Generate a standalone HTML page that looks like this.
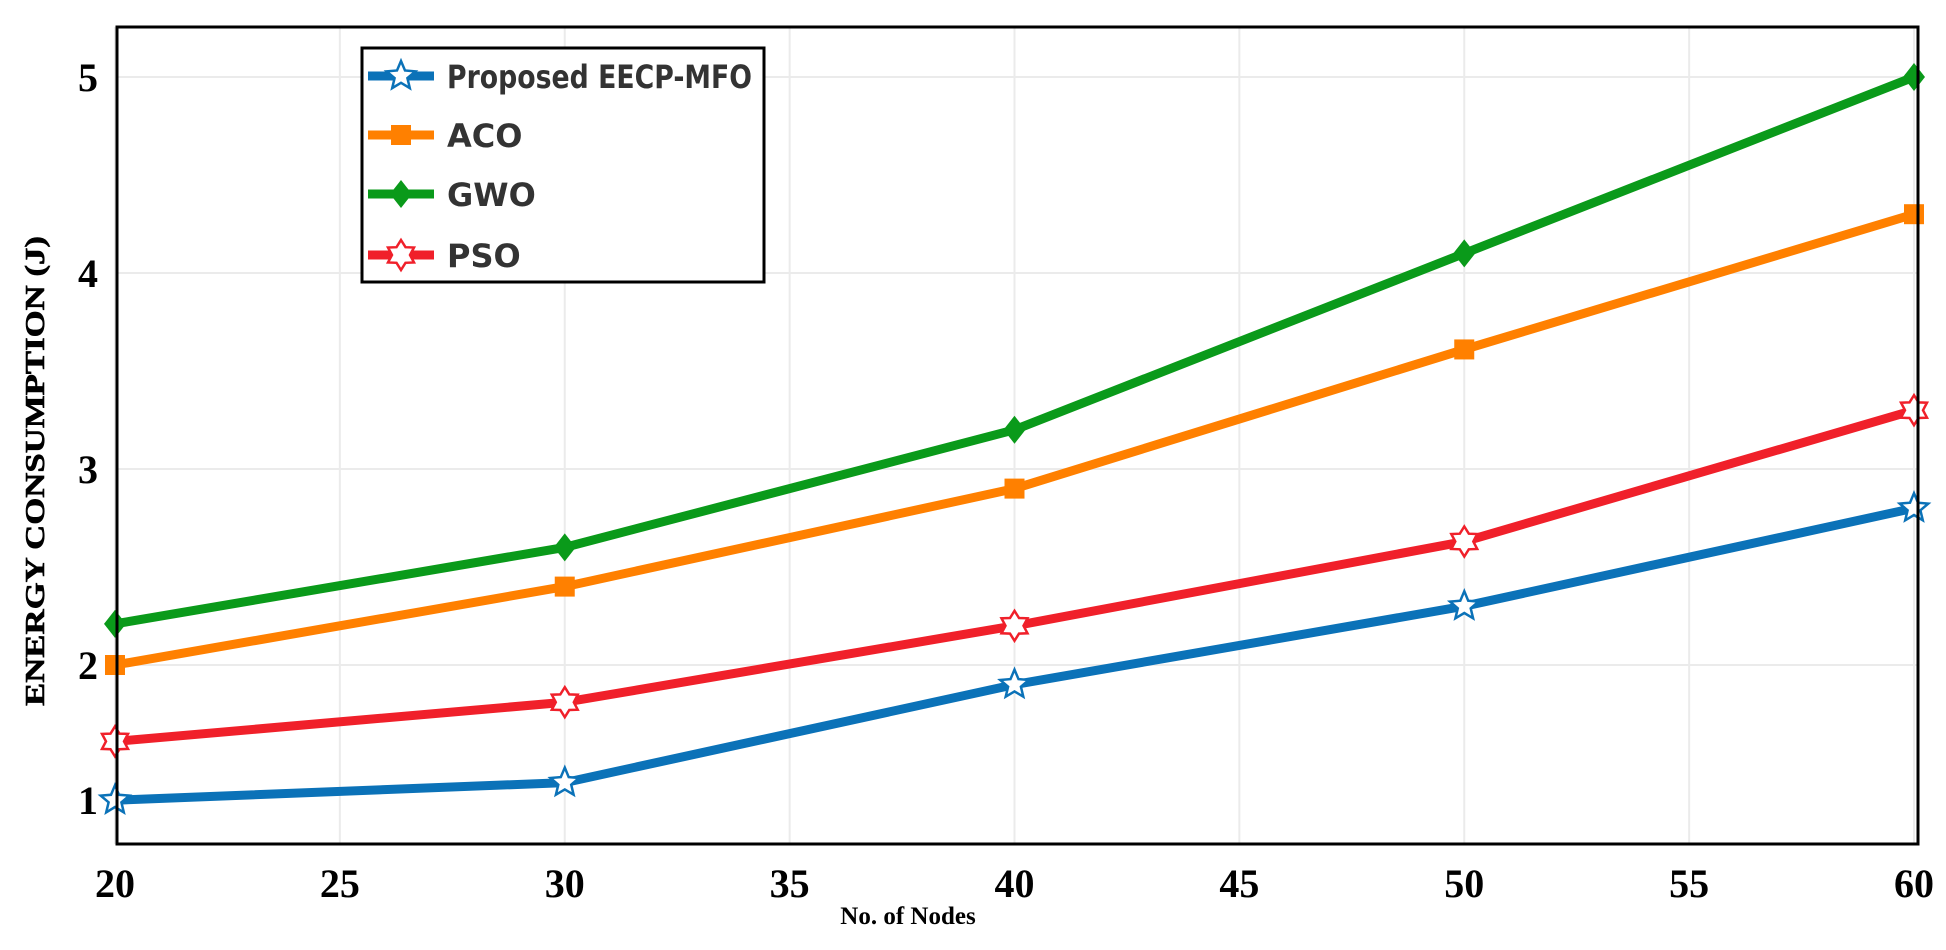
<!DOCTYPE html>
<html><head><meta charset="utf-8"><style>
html,body{margin:0;padding:0;background:#fff;}
svg{display:block;}
</style></head><body>
<svg id="chart" width="1946" height="950" xmlns="http://www.w3.org/2000/svg">
<rect x="0" y="0" width="1946" height="950" fill="#fff"/>
<g id="grid"></g>
<g id="series"></g>
<rect x="117" y="27" width="1801" height="817" fill="none" stroke="#000" stroke-width="3"/>
<g id="ticks"></g>
<text x="908" y="924" font-family="Liberation Serif, serif" font-weight="bold" font-size="25" text-anchor="middle">No. of Nodes</text>
<text transform="translate(44,471) rotate(-90)" font-family="Liberation Serif, serif" font-weight="bold" font-size="27" text-anchor="middle" textLength="470" lengthAdjust="spacingAndGlyphs" stroke="#000" stroke-width="0.6">ENERGY CONSUMPTION (J)</text>
<g id="legend">
<rect x="362" y="48" width="402" height="234" fill="#fff" stroke="#000" stroke-width="3"/>
</g>
</svg>
<script>
const categories = [20, 30, 40, 50, 60];
const seriesNames = ['Proposed EECP-MFO', 'ACO', 'GWO', 'PSO'];
const mfoValues = [1.31, 1.40, 1.90, 2.30, 2.80];
const acoValues = [2.00, 2.40, 2.90, 3.61, 4.30];
const gwoValues = [2.21, 2.60, 3.20, 4.10, 5.00];
const psoValues = [1.61, 1.81, 2.20, 2.63, 3.30];
const xTicks = [20, 25, 30, 35, 40, 45, 50, 55, 60];
const yGridVals = [2, 3, 4, 5];
const yTickVals = [1.31, 2, 3, 4, 5];
const yTickLabels = ['1', '2', '3', '4', '5'];

const NS = 'http://www.w3.org/2000/svg';
function X(v){ return 115 + (v - 20) * 44.975; }
function Y(v){ return 77 + (5 - v) * 196; }
function mk(tag, attrs, parent){ const e = document.createElementNS(NS, tag); for (const k in attrs) e.setAttribute(k, attrs[k]); parent.appendChild(e); return e; }

const grid = document.getElementById('grid');
xTicks.forEach(t => {
  const l = mk('line', {x1: X(t), x2: X(t), y1: 27, y2: 844, stroke: '#ebebeb', 'stroke-width': 2}, grid);
  
  
});
yGridVals.forEach(t => {
  const l = mk('line', {x1: 117, x2: 1918, y1: Y(t), y2: Y(t), stroke: '#ebebeb', 'stroke-width': 2}, grid);
  
  
});

const ticks = document.getElementById('ticks');
xTicks.forEach(t => {
  const tx = mk('text', {x: X(t), y: 897, 'font-family': 'Liberation Serif, serif', 'font-weight': 'bold', 'font-size': 40, 'text-anchor': 'middle'}, ticks);
  tx.textContent = t;
  
  
});
yTickVals.forEach((t, i) => {
  const tx = mk('text', {x: 88, y: Y(t) + 14, 'font-family': 'Liberation Serif, serif', 'font-weight': 'bold', 'font-size': 40, 'text-anchor': 'middle'}, ticks);
  tx.textContent = yTickLabels[i];
  
  
});

function starPts(cx, cy, r){
  let p = [];
  for (let i = 0; i < 10; i++){ const a = -Math.PI/2 + i*Math.PI/5; const rr = i%2 ? r*0.45 : r; p.push((cx + rr*Math.cos(a)).toFixed(1) + ',' + (cy + rr*Math.sin(a)).toFixed(1)); }
  return p.join(' ');
}
function hexStar(cx, cy, r){
  let p = [];
  for (let i = 0; i < 12; i++){ const a = -Math.PI/2 + i*Math.PI/6; const rr = i%2 ? r*0.6 : r; p.push((cx + rr*Math.cos(a)).toFixed(1) + ',' + (cy + rr*Math.sin(a)).toFixed(1)); }
  return p.join(' ');
}
function marker(kind, color, cx, cy, parent){
  if (kind === 'star') return mk('polygon', {points: starPts(cx, cy, 15), fill: '#fff', stroke: color, 'stroke-width': 2.5}, parent);
  if (kind === 'square') return mk('rect', {x: cx-10, y: cy-10, width: 20, height: 20, fill: color}, parent);
  if (kind === 'diamond') return mk('polygon', {points: `${cx},${cy-14} ${cx+11},${cy} ${cx},${cy+14} ${cx-11},${cy}`, fill: color}, parent);
  return mk('polygon', {points: hexStar(cx, cy, 15), fill: '#fff', stroke: color, 'stroke-width': 2.5}, parent);
}

const allSeries = [
  {vals: mfoValues, color: '#0b72b8', m: 'star', key: 'mfo'},
  {vals: acoValues, color: '#ff8000', m: 'square', key: 'aco'},
  {vals: gwoValues, color: '#0a9a1a', m: 'diamond', key: 'gwo'},
  {vals: psoValues, color: '#f0202a', m: 'hex', key: 'pso'}
];
const sg = document.getElementById('series');
[2,1,3,0].forEach(si => {
  const s = allSeries[si];
  const g = mk('g', {}, sg);
  
  
  const pl = mk('polyline', {points: categories.map((c, i) => X(c) + ',' + Y(s.vals[i])).join(' '), fill: 'none', stroke: s.color, 'stroke-width': 9, 'stroke-linejoin': 'round'}, g);
  
  
  categories.forEach((c, i) => {
    const mm = marker(s.m, s.color, X(c), Y(s.vals[i]), g);
    
    
  });
});

const lg = document.getElementById('legend');
const legY = [76, 135, 194, 255];
allSeries.forEach((s, i) => {
  const e = mk('g', {}, lg);
  
  
  mk('line', {x1: 368, x2: 434, y1: legY[i], y2: legY[i], stroke: s.color, 'stroke-width': 9}, e);
  marker(s.m, s.color, 401, legY[i], e);
  const t = mk('text', {x: 447, y: legY[i] + 12, 'font-family': 'DejaVu Sans, Liberation Sans, sans-serif', 'font-weight': 'bold', 'font-size': 32, fill: '#333'}, e);
  t.textContent = seriesNames[i];
  if (i === 0) { t.setAttribute('textLength', '305'); t.setAttribute('lengthAdjust', 'spacingAndGlyphs'); }
});
</script>
</body></html>
